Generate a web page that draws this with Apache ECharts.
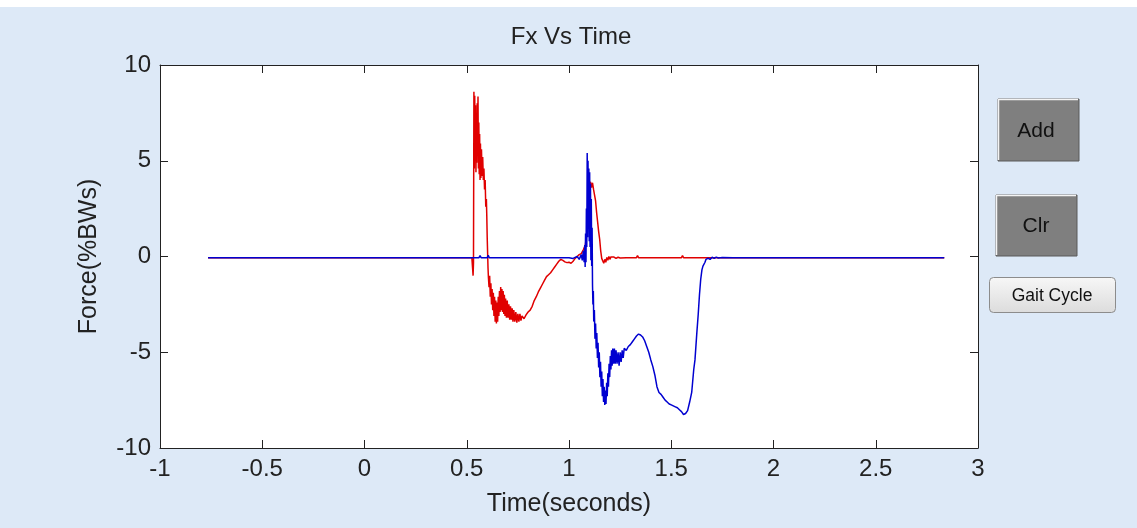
<!DOCTYPE html>
<html lang="en">
<head>
  <meta charset="UTF-8">
  <title>Fx Vs Time</title>
  <script src="https://cdn.jsdelivr.net/npm/echarts@6/dist/echarts.min.js"></script>
  <style>
    html, body { margin: 0; padding: 0; background: #dde9f7; }
    #chart { width: 1137px; height: 528px; }
  </style>
</head>
<body>
<div id="chart"></div>
<script>
  // axis ticks (seconds / %BW)
  var timeTicks = [-1, -0.5, 0, 0.5, 1, 1.5, 2, 2.5, 3];
  var forceTicks = [-10, -5, 0, 5, 10];

  // red trace: [time, force]
  var redTrace = [
    [-0.765,-0.06],[0.525,-0.06],[0.529,-0.1],[0.531,-1.0],[0.533,-0.3],[0.535,8.6],[0.537,4.6],[0.539,8.4],
    [0.541,5.2],[0.543,7.9],[0.545,4.4],[0.547,7.4],[0.549,4.9],[0.551,8.0],[0.553,5.3],[0.555,8.35],
    [0.557,4.6],[0.559,7.0],[0.561,4.3],[0.563,6.4],[0.565,4.0],[0.567,5.9],[0.569,4.1],[0.572,5.6],
    [0.575,4.2],[0.578,5.2],[0.581,4.0],[0.584,4.6],[0.587,3.5],[0.590,4.0],[0.593,2.6],[0.596,3.0],
    [0.598,2.1],[0.600,1.0],[0.602,0.2],[0.604,-0.6],[0.606,-1.1],[0.609,-1.6],[0.612,-1.0],[0.615,-2.1],
    [0.618,-1.4],[0.621,-2.5],[0.624,-1.7],[0.627,-2.8],[0.630,-1.9],[0.633,-3.1],[0.636,-2.1],[0.639,-3.4],
    [0.642,-2.3],[0.645,-3.5],[0.648,-2.4],[0.651,-3.4],[0.654,-2.1],[0.657,-3.1],[0.660,-1.8],[0.663,-2.9],
    [0.666,-1.6],[0.669,-2.8],[0.672,-1.7],[0.675,-2.9],[0.678,-1.8],[0.681,-3.0],[0.684,-2.0],[0.687,-3.1],
    [0.690,-2.2],[0.694,-3.2],[0.698,-2.3],[0.702,-3.2],[0.706,-2.5],[0.710,-3.3],[0.714,-2.6],[0.718,-3.3],
    [0.722,-2.7],[0.726,-3.4],[0.730,-2.8],[0.735,-3.4],[0.740,-2.9],[0.745,-3.45],[0.750,-3.0],[0.755,-3.4],
    [0.760,-3.0],[0.765,-3.35],[0.770,-3.1],[0.780,-3.25],[0.790,-3.05],[0.800,-2.9],[0.810,-2.8],[0.820,-2.6],
    [0.830,-2.3],[0.840,-2.1],[0.850,-1.85],[0.860,-1.65],[0.870,-1.45],[0.880,-1.25],[0.890,-1.05],[0.900,-0.95],
    [0.910,-0.85],[0.920,-0.7],[0.930,-0.55],[0.940,-0.4],[0.950,-0.25],[0.960,-0.15],[0.970,-0.2],[0.980,-0.28],
    [0.990,-0.32],[1.000,-0.3],[1.010,-0.35],[1.020,-0.25],[1.030,-0.1],[1.040,0.0],[1.050,0.1],[1.060,0.15],
    [1.070,0.35],[1.080,0.6],[1.090,1.5],[1.095,2.8],[1.100,3.7],[1.105,3.9],[1.110,3.6],[1.115,3.85],
    [1.120,3.5],[1.125,3.2],[1.130,2.9],[1.135,2.3],[1.140,1.8],[1.145,1.3],[1.150,0.9],[1.155,0.3],
    [1.160,-0.1],[1.165,-0.2],[1.170,-0.35],[1.175,-0.15],[1.180,-0.3],[1.185,-0.05],[1.190,-0.2],[1.195,0.0],
    [1.200,-0.15],[1.205,-0.02],[1.210,-0.12],[1.220,-0.03],[1.230,-0.1],[1.240,-0.04],[1.250,-0.08],[1.280,-0.06],
    [1.330,-0.06],[1.335,0.05],[1.340,-0.06],[1.550,-0.06],[1.555,0.05],[1.560,-0.06],[2.835,-0.06]
  ];

  // blue trace: [time, force]
  var blueTrace = [
    [-0.765,-0.06],[0.560,-0.06],[0.565,0.05],[0.570,-0.06],[0.600,-0.06],[0.605,0.06],[0.610,-0.06],[1.000,-0.06],
    [1.020,-0.1],[1.040,0.0],[1.050,-0.15],[1.060,0.1],[1.065,-0.2],[1.070,0.3],[1.074,-0.3],[1.077,0.6],
    [1.079,-0.55],[1.081,1.2],[1.083,-0.3],[1.085,2.5],[1.087,0.5],[1.089,5.4],[1.091,1.0],[1.093,5.0],
    [1.095,1.5],[1.097,4.6],[1.099,0.8],[1.101,4.4],[1.103,0.5],[1.105,3.8],[1.107,-0.2],[1.109,3.0],
    [1.111,-0.5],[1.113,1.5],[1.115,-1.5],[1.117,-2.5],[1.119,-1.8],[1.121,-3.4],[1.124,-2.8],[1.127,-4.3],
    [1.130,-3.5],[1.133,-4.8],[1.136,-4.0],[1.139,-5.3],[1.142,-4.5],[1.145,-5.8],[1.148,-5.0],[1.151,-6.3],
    [1.154,-5.5],[1.157,-6.8],[1.160,-6.0],[1.163,-7.3],[1.166,-6.4],[1.169,-7.6],[1.172,-6.8],[1.175,-7.75],
    [1.178,-7.0],[1.181,-7.7],[1.184,-6.6],[1.187,-7.3],[1.190,-6.1],[1.193,-6.8],[1.196,-5.6],[1.199,-6.3],
    [1.202,-5.2],[1.205,-5.9],[1.208,-4.9],[1.211,-5.7],[1.214,-4.8],[1.218,-5.6],[1.222,-4.8],[1.226,-5.6],
    [1.230,-4.9],[1.235,-5.6],[1.240,-5.0],[1.245,-5.7],[1.250,-5.0],[1.255,-5.5],[1.260,-4.9],[1.265,-5.3],
    [1.270,-4.8],[1.280,-4.9],[1.290,-4.7],[1.300,-4.6],[1.310,-4.45],[1.320,-4.3],[1.330,-4.15],[1.340,-4.05],
    [1.350,-4.1],[1.360,-4.2],[1.370,-4.4],[1.380,-4.7],[1.390,-5.0],[1.400,-5.4],[1.410,-5.75],[1.420,-6.2],
    [1.430,-6.8],[1.440,-7.1],[1.450,-7.2],[1.460,-7.35],[1.470,-7.5],[1.480,-7.6],[1.490,-7.7],[1.500,-7.75],
    [1.510,-7.8],[1.520,-7.85],[1.530,-7.9],[1.540,-8.0],[1.550,-8.1],[1.560,-8.25],[1.565,-8.3],[1.570,-8.2],
    [1.580,-8.05],[1.590,-7.6],[1.600,-7.1],[1.610,-5.9],[1.616,-5.4],[1.625,-4.0],[1.632,-3.0],[1.638,-2.0],
    [1.644,-1.2],[1.650,-0.7],[1.655,-0.5],[1.660,-0.4],[1.665,-0.3],[1.670,-0.15],[1.675,-0.25],[1.680,-0.08],
    [1.690,-0.15],[1.700,-0.04],[1.710,-0.1],[1.720,-0.03],[1.730,-0.08],[1.750,-0.05],[1.800,-0.07],[2.835,-0.06]
  ];

  var font = '"Liberation Sans", Arial, sans-serif';
  var ink = '#222222';

  var chart = echarts.init(document.getElementById('chart'), null, { renderer: 'canvas' });

  function xAx(pos, labels) {
    return {
      type: 'value', position: pos, min: timeTicks[0], max: timeTicks[timeTicks.length - 1], interval: 0.5,
      axisLine: { show: true, onZero: false, lineStyle: { color: ink, width: 1 } },
      axisTick: { show: true, inside: true, length: 8, lineStyle: { color: ink } },
      axisLabel: { show: labels, color: ink, fontSize: 24, fontFamily: font, margin: 9 },
      splitLine: { show: false },
      name: labels ? 'Time(seconds)' : '', nameLocation: 'middle', nameGap: 44,
      nameTextStyle: { color: ink, fontSize: 25, fontFamily: font }
    };
  }
  function yAx(pos, labels) {
    return {
      type: 'value', position: pos, min: forceTicks[0], max: forceTicks[forceTicks.length - 1], interval: 5,
      axisLine: { show: true, onZero: false, lineStyle: { color: ink, width: 1 } },
      axisTick: { show: true, inside: true, length: 8, lineStyle: { color: ink } },
      axisLabel: { show: labels, color: ink, fontSize: 24, fontFamily: font, margin: 9 },
      splitLine: { show: false },
      name: labels ? 'Force(%BWs)' : '', nameLocation: 'middle', nameGap: 58,
      nameTextStyle: { color: ink, fontSize: 25, fontFamily: font }
    };
  }

  chart.setOption({
    backgroundColor: '#dde9f7',
    animation: false,
    title: {
      text: 'Fx Vs Time', left: 566, top: 20, textAlign: 'center',
      textStyle: { color: ink, fontSize: 24, fontWeight: 'normal', fontFamily: font }
    },
    grid: { left: 160, right: 159, top: 65, bottom: 80, show: true, backgroundColor: '#ffffff', borderWidth: 0 },
    xAxis: [xAx('bottom', true), xAx('top', false)],
    yAxis: [yAx('left', true), yAx('right', false)],
    series: [
      { name: 'red', type: 'line', data: redTrace, showSymbol: false, symbol: 'none',
        lineStyle: { color: '#e00000', width: 1.5 }, xAxisIndex: 0, yAxisIndex: 0 },
      { name: 'blue', type: 'line', data: blueTrace, showSymbol: false, symbol: 'none',
        lineStyle: { color: '#0000d0', width: 1.5 }, xAxisIndex: 0, yAxisIndex: 0 }
    ],
    graphic: [
      { type: 'rect', left: 0, top: 0, shape: { width: 1137, height: 7 }, style: { fill: '#ffffff' } },
      // Add button
      { type: 'rect', shape: { x: 998, y: 99, width: 81, height: 62 },
        style: { fill: '#7f7f7f', stroke: '#5a5a5a', lineWidth: 1 } },
      { type: 'polyline', shape: { points: [[998.5, 160], [998.5, 99.5], [1078, 99.5]] },
        style: { stroke: '#f4f4f4', lineWidth: 1.5, fill: null } },
      { type: 'text', style: { text: 'Add', x: 1036, y: 131, align: 'center', verticalAlign: 'middle',
        fontSize: 21, fontFamily: font, fill: '#111' } },
      // Clr button
      { type: 'rect', shape: { x: 996, y: 195, width: 81, height: 61 },
        style: { fill: '#7f7f7f', stroke: '#5a5a5a', lineWidth: 1 } },
      { type: 'polyline', shape: { points: [[996.5, 255], [996.5, 195.5], [1076, 195.5]] },
        style: { stroke: '#f4f4f4', lineWidth: 1.5, fill: null } },
      { type: 'text', style: { text: 'Clr', x: 1036, y: 226, align: 'center', verticalAlign: 'middle',
        fontSize: 21, fontFamily: font, fill: '#111' } },
      // Gait Cycle button
      { type: 'rect', shape: { x: 989.5, y: 277.5, width: 126, height: 35, r: 4 },
        style: { stroke: '#8c8c8c', lineWidth: 1,
          fill: new echarts.graphic.LinearGradient(0, 0, 0, 1, [
            { offset: 0, color: '#f7f7f7' }, { offset: 1, color: '#dcdcdc' }]) } },
      { type: 'text', style: { text: 'Gait Cycle', x: 1052, y: 296, align: 'center', verticalAlign: 'middle',
        fontSize: 17.5, fontFamily: font, fill: '#111' } }
    ]
  });
</script>
</body>
</html>
